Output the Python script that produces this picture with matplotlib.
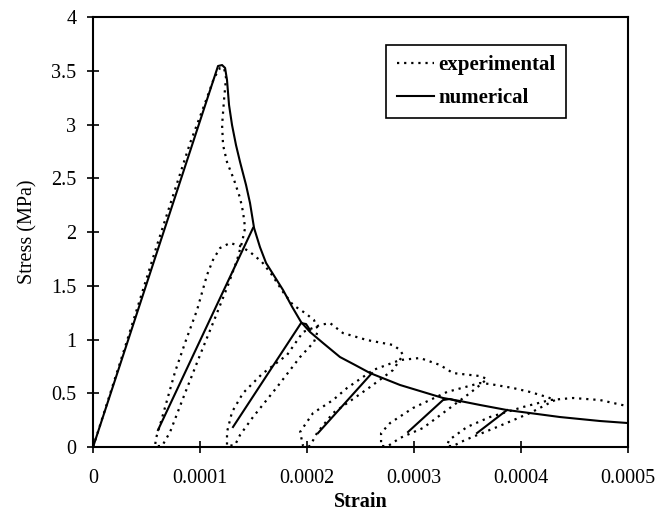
import numpy as np
import matplotlib.pyplot as plt
from matplotlib.ticker import FuncFormatter, MultipleLocator

plt.rcParams.update({
    'font.family': 'Liberation Serif',
    'font.size': 14.5,
})

# experimental curve (strain in 1e-4, stress in MPa), one path with unload/reload loops
exp_strain = [0, 0.299, 0.598, 0.907, 1.047, 1.131, 1.187, 1.224, 1.243, 1.224, 1.206, 1.215, 1.252,
              1.318, 1.374, 1.402, 1.421, 1.393,
              1.346, 1.262, 1.140, 1.000, 0.860, 0.720, 0.645,
              0.579, 0.589, 0.626, 0.692, 0.766, 0.869, 0.972, 1.065, 1.121, 1.187, 1.280, 1.374,
              1.467, 1.579, 1.673, 1.776, 1.869, 1.981, 2.065, 2.103,
              2.065, 1.935, 1.720, 1.495, 1.374, 1.327,
              1.252, 1.252, 1.299, 1.402, 1.579, 1.813, 1.963, 2.121, 2.215, 2.336, 2.561, 2.804,
              2.869, 2.897,
              2.804, 2.589, 2.243, 2.093, 2.028,
              1.963, 1.935, 2.056, 2.243, 2.374, 2.617, 2.869, 3.056, 3.243, 3.364, 3.617, 3.682,
              3.617, 3.523, 3.271, 3.084, 2.869, 2.757,
              2.692, 2.692, 2.776, 2.991, 3.308, 3.617, 3.710, 3.925, 4.084, 4.243, 4.318,
              4.084, 3.776, 3.477, 3.364,
              3.308, 3.327, 3.495, 3.710, 4.019, 4.271, 4.486, 4.738, 4.991]
exp_stress = [0, 0.930, 1.879, 2.828, 3.200, 3.433, 3.526, 3.526, 3.433, 3.228, 2.995, 2.809, 2.651,
              2.484, 2.316, 2.186, 2.037, 1.907,
              1.740, 1.507, 1.200, 0.856, 0.502, 0.140, 0.009,
              0.009, 0.084, 0.205, 0.437, 0.698, 0.995, 1.274, 1.600, 1.740, 1.851, 1.898, 1.870,
              1.814, 1.721, 1.600, 1.442, 1.321, 1.247, 1.181, 1.088,
              0.977, 0.837, 0.558, 0.279, 0.112, 0.019,
              0.009, 0.140, 0.326, 0.502, 0.679, 0.856, 1.070, 1.135, 1.153, 1.060, 0.995, 0.949,
              0.902, 0.856,
              0.716, 0.558, 0.316, 0.130, 0.009,
              0.009, 0.140, 0.316, 0.437, 0.549, 0.716, 0.809, 0.828, 0.763, 0.688, 0.660, 0.633,
              0.577, 0.502, 0.316, 0.177, 0.084, 0.009,
              0.009, 0.130, 0.223, 0.363, 0.512, 0.595, 0.586, 0.549, 0.512, 0.465, 0.437,
              0.316, 0.186, 0.065, 0.009,
              0.009, 0.065, 0.186, 0.279, 0.372, 0.437, 0.456, 0.437, 0.381]

# numerical envelope
num_strain = [0, 1.168, 1.206, 1.234, 1.252, 1.271, 1.299, 1.336, 1.374, 1.430, 1.467, 1.505,
              1.560, 1.617, 1.776, 1.860, 1.944, 2.028, 2.150, 2.308, 2.449, 2.589, 2.869, 3.271,
              3.430, 3.617, 3.869, 4.084, 4.364, 4.738, 5.000]
num_stress = [0, 3.544, 3.553, 3.526, 3.414, 3.181, 2.995, 2.809, 2.651, 2.437, 2.270, 2.037,
              1.860, 1.712, 1.460, 1.305, 1.163, 1.070, 0.967, 0.837, 0.763, 0.688, 0.577, 0.456,
              0.428, 0.391, 0.344, 0.316, 0.279, 0.242, 0.223]

# numerical reloading branches
reload_strain = [[0.607, 1.495],
                 [1.308, 1.944, 1.991, 2.028],
                 [2.103, 2.607],
                 [2.944, 3.271, 3.336, 3.430],
                 [3.589, 3.869]]
reload_stress = [[0.158, 2.037],
                 [0.186, 1.153, 1.144, 1.088],
                 [0.130, 0.688],
                 [0.140, 0.437, 0.447, 0.419],
                 [0.130, 0.344]]

fig = plt.figure(figsize=(6.6, 5.15), dpi=100)
ax = fig.add_axes([0.141, 0.132, 0.8105, 0.835])

ax.plot(np.array(exp_strain) * 1e-4, exp_stress, color='black', lw=1.6,
        ls=(0, (1, 2.2)), label='experimental')
ax.plot(np.array(num_strain) * 1e-4, num_stress, color='black', lw=1.5, label='numerical')
for xs, ys in zip(reload_strain, reload_stress):
    ax.plot(np.array(xs) * 1e-4, ys, color='black', lw=1.5)

ax.set_xlim(0, 0.0005)
ax.set_ylim(0, 4)
ax.xaxis.set_major_locator(MultipleLocator(0.0001))
ax.yaxis.set_major_locator(MultipleLocator(0.5))
ax.xaxis.set_major_formatter(FuncFormatter(lambda v, p: f'{v:g}'))
ax.yaxis.set_major_formatter(FuncFormatter(lambda v, p: f'{v:g}'))
ax.tick_params(direction='inout', length=8, width=1.2)
ax.tick_params(axis='x', pad=12)
ax.tick_params(axis='y', pad=8)
for s in ax.spines.values():
    s.set_linewidth(1.5)

ax.set_xlabel('Strain', fontweight='bold', labelpad=3)
ax.set_ylabel('Stress (MPa)', labelpad=10)

leg = ax.legend(loc='upper left', bbox_to_anchor=(0.548, 0.935), borderaxespad=0,
                fancybox=False, edgecolor='black', framealpha=1, handlelength=1.8,
                handletextpad=0.2, borderpad=0.5, labelspacing=0.6,
                prop={'weight': 'bold', 'size': 15})
leg.get_frame().set_linewidth(1.2)

fig.savefig('out.png', dpi=100)
